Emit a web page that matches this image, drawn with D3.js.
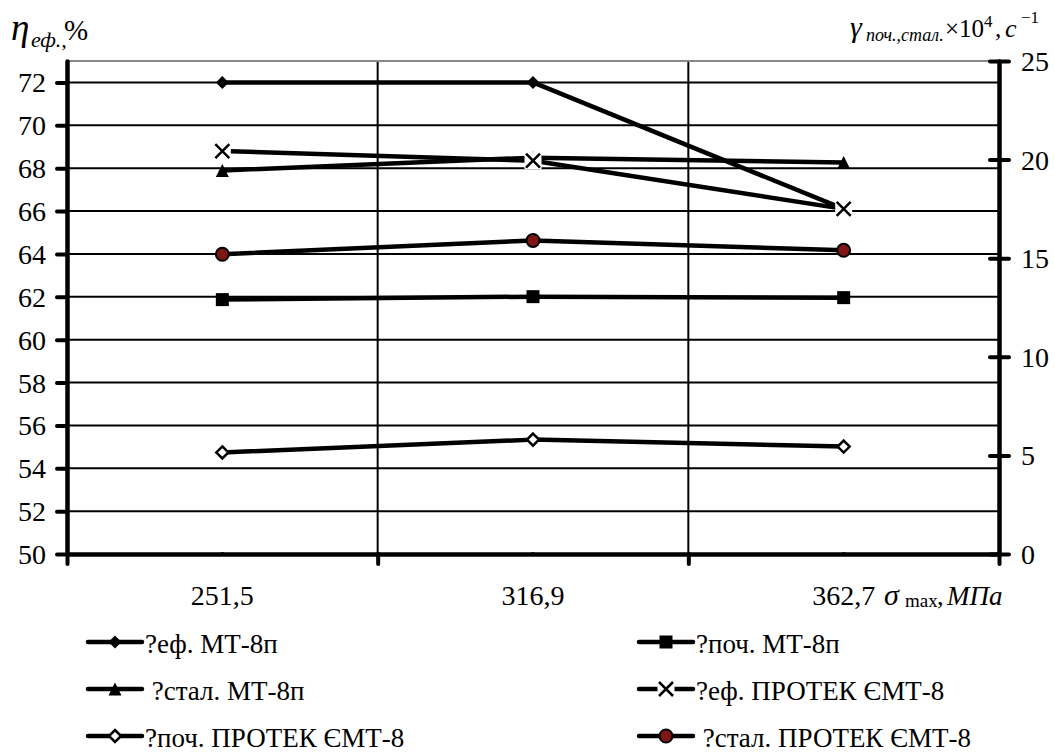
<!DOCTYPE html>
<html>
<head>
<meta charset="utf-8">
<script src="https://cdn.jsdelivr.net/npm/d3@7"></script>
</head>
<body style="margin:0;background:#fff">
<svg id="chart" width="1055" height="752" style="display:block"></svg>
<script>
// categories on the x axis (sigma max, MPa)
const categories = ["251,5", "316,9", "362,7"];

// left axis: efficiency, %
const effMT  = [72, 72, 66.1];
const effPR  = [68.8, 68.35, 66.1];
// right axis: gamma x 10^4, 1/s
const pochMT = [12.9, 13.05, 13.0];
const stalMT = [19.45, 20.1, 19.85];
const pochPR = [5.15, 5.8, 5.45];
const stalPR = [15.2, 15.9, 15.4];

const leftTicks  = [50, 52, 54, 56, 58, 60, 62, 64, 66, 68, 70, 72];
const rightTicks = [0, 5, 10, 15, 20, 25];

const series = [
  { name: "?еф. МТ-8п",            values: effMT,  axis: "L", marker: "diamond" },
  { name: "?поч. МТ-8п",           values: pochMT, axis: "R", marker: "square" },
  { name: " ?стал. МТ-8п",         values: stalMT, axis: "R", marker: "triangle" },
  { name: "?еф. ПРОТЕК ЄМТ-8",     values: effPR,  axis: "L", marker: "x" },
  { name: "?поч. ПРОТЕК ЄМТ-8",    values: pochPR, axis: "R", marker: "diamondOpen" },
  { name: " ?стал. ПРОТЕК ЄМТ-8",  values: stalPR, axis: "R", marker: "circle" }
];

const FONT = "Liberation Serif";

const svg = d3.select("#chart");
const L = 67, R = 999, T = 61, B = 554;

const x = d3.scaleBand().domain(categories).range([L, R]).padding(0);
const xEdge = d3.scaleLinear().domain([0, categories.length]).range([L, R]);
const yL = d3.scaleLinear().domain([50, 73]).range([B, T]);
const yR = d3.scaleLinear().domain([0, 25]).range([B, T]);

// gridlines
const grid = svg.append("g");
grid.selectAll("line.h").data(leftTicks.filter(d => d > 50)).join("line")
  .attr("x1", L).attr("x2", R)
  .attr("y1", d => yL(d)).attr("y2", d => yL(d))
  .attr("stroke", "#000").attr("stroke-width", 2);
grid.selectAll("line.v").data([1, 2]).join("line")
  .attr("x1", d => xEdge(d)).attr("x2", d => xEdge(d))
  .attr("y1", T).attr("y2", B)
  .attr("stroke", "#000").attr("stroke-width", 2);
// top border of plot area
grid.append("line")
  .attr("x1", L).attr("x2", R).attr("y1", T).attr("y2", T)
  .attr("stroke", "#888").attr("stroke-width", 2);

// axes
function styleAxis(g) {
  g.select(".domain").attr("stroke", "#000").attr("stroke-width", 4.5).attr("stroke-linecap", "round");
  g.selectAll(".tick line").attr("stroke", "#000").attr("stroke-width", 4).attr("stroke-linecap", "round");
  g.selectAll(".tick text").attr("fill", "#000")
    .style("font-family", FONT).style("font-size", "28px");
}

const axL = svg.append("g").attr("transform", `translate(${L},0)`)
  .call(d3.axisLeft(yL).tickValues(leftTicks).tickSize(10).tickSizeOuter(0).tickPadding(11))
  .call(styleAxis);
axL.selectAll(".tick text").attr("dy", "0.34em");

const axR = svg.append("g").attr("transform", `translate(${R},0)`)
  .call(d3.axisRight(yR).tickValues(rightTicks).tickSize(10).tickSizeOuter(0).tickPadding(12))
  .call(styleAxis);
axR.selectAll(".tick line").attr("x1", -9);
axR.selectAll(".tick text").attr("dy", "0.34em");

// bottom: tick marks at category edges, labels at centres
const axBt = svg.append("g").attr("transform", `translate(0,${B})`)
  .call(d3.axisBottom(xEdge).tickValues(d3.range(0, categories.length + 1)).tickSize(10).tickSizeOuter(0).tickFormat(""))
  .call(styleAxis);
const axBl = svg.append("g").attr("transform", `translate(0,${B})`)
  .call(d3.axisBottom(x).tickSize(0).tickPadding(31))
  .call(styleAxis);
axBl.select(".domain").remove();

// series lines
const plot = svg.append("g");

function markerPath(type, s) {
  const h = s / 2;
  if (type === "diamond" || type === "diamondOpen") return `M0,${-h}L${h},0L0,${h}L${-h},0Z`;
  if (type === "square") return `M${-h},${-h}H${h}V${h}H${-h}Z`;
  if (type === "triangle") return `M0,${-h}L${h},${h}H${-h}Z`;
  return "";
}

function drawMarker(g, type, cx, cy) {
  const m = g.append("g").attr("transform", `translate(${cx},${cy})`);
  if (type === "circle") {
    m.append("circle").attr("r", 6.5).attr("fill", "#7f1515").attr("stroke", "#000").attr("stroke-width", 2);
  } else if (type === "x") {
    m.append("rect").attr("x", -8.5).attr("y", -8.5).attr("width", 17).attr("height", 17).attr("fill", "#fff");
    m.append("path").attr("d", "M-7,-7L7,7M7,-7L-7,7").attr("stroke", "#000").attr("stroke-width", 2.5).attr("fill", "none");
  } else if (type === "diamondOpen") {
    m.append("path").attr("d", markerPath(type, 12)).attr("fill", "#fff").attr("stroke", "#000").attr("stroke-width", 2.5);
  } else {
    m.append("path").attr("d", markerPath(type, 13)).attr("fill", "#000");
  }
}

const line = d3.line().x(d => d[0]).y(d => d[1]);

series.forEach(s => {
  const yS = s.axis === "L" ? yL : yR;
  const pts = s.values.map((v, i) => [x(categories[i]) + x.bandwidth() / 2, yS(v)]);
  plot.append("path").attr("d", line(pts))
    .attr("fill", "none").attr("stroke", "#000").attr("stroke-width", 4.5)
    .attr("stroke-linejoin", "round");
  pts.forEach(p => drawMarker(plot, s.marker, p[0], p[1]));
});

// helper for rich text titles
function richText(y, parts) {
  const t = svg.append("text").attr("y", y).attr("fill", "#000").style("font-family", FONT);
  parts.forEach(p => {
    const s = t.append("tspan").attr("x", p.x).style("font-size", p.size + "px").text(p.text);
    if (p.dy) s.attr("dy", p.dy);
    if (p.italic) s.style("font-style", "italic");
  });
  return t;
}

// axis titles
richText(40, [
  { x: 11, size: 37, italic: true, text: "η" },
  { x: 31, size: 22, italic: true, dy: 7, text: "еф.," },
  { x: 64, size: 29, dy: -7, text: "%" }
]);

richText(37, [
  { x: 850, size: 30, italic: true, text: "γ" },
  { x: 866, size: 18, italic: true, dy: 4, text: "поч.,стал." },
  { x: 945, size: 25, dy: -4, text: "×10" },
  { x: 984, size: 17, dy: -10, text: "4" },
  { x: 995, size: 25, dy: 10, text: "," },
  { x: 1005, size: 26, italic: true, text: "c" },
  { x: 1021, size: 17, dy: -14, text: "−1" }
]);

richText(605, [
  { x: 884, size: 30, italic: true, text: "σ" },
  { x: 905, size: 19, dy: 2, text: "max" },
  { x: 937, size: 26, dy: -2, text: "," },
  { x: 947, size: 27, italic: true, text: "МПа" }
]);

// legend
const legX = [88, 639];
const legY = [642, 689, 736];
const leg = svg.append("g");
series.forEach((s, i) => {
  const col = i % 2, row = Math.floor(i / 2);
  const lx = legX[col], ly = legY[row];
  const g = leg.append("g");
  g.append("line").attr("x1", lx).attr("x2", lx + 54).attr("y1", ly).attr("y2", ly)
    .attr("stroke", "#000").attr("stroke-width", 4.5).attr("stroke-linecap", "round");
  drawMarker(g, s.marker, lx + 27, ly);
  g.append("text").attr("x", lx + 57).attr("y", ly + 11).attr("fill", "#000")
    .style("font-family", FONT).style("font-size", "27px").style("white-space", "pre")
    .text(s.name);
});
</script>
</body>
</html>
